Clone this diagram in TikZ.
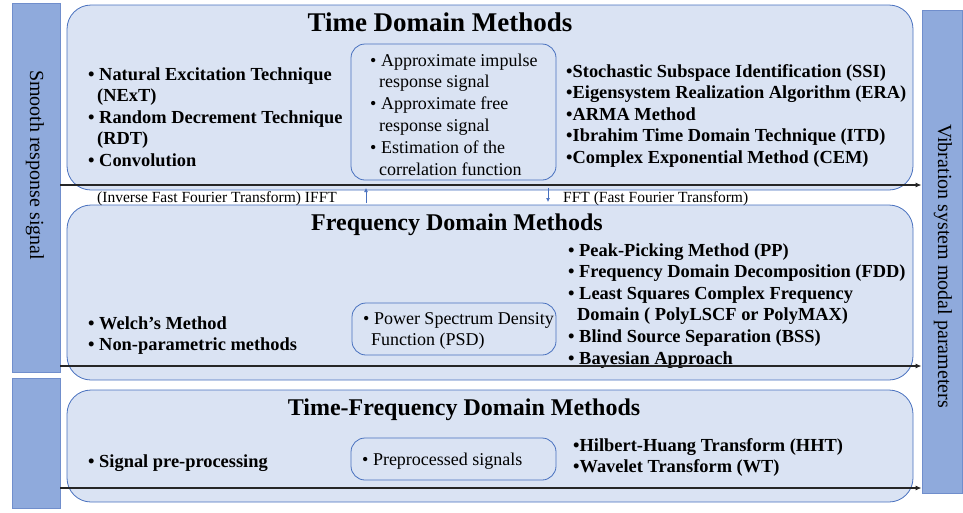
\documentclass[tikz,border=0pt]{standalone}
\usepackage{fontspec}
\setmainfont{Liberation Serif}
\usetikzlibrary{positioning, arrows.meta}
\definecolor{boxfill}{RGB}{218,227,243}
\definecolor{boxline}{RGB}{72,112,190}
\definecolor{barfill}{RGB}{143,170,220}
\definecolor{barline}{RGB}{112,142,204}
\newcommand{\bul}{\textbullet\ }
\newcommand{\hang}{\hspace*{9pt}}
\tikzset{
panel/.style = {draw = boxline, fill = boxfill, line width = 0.8pt, rounded corners = 24pt},
innerbox/.style = {draw = boxline, fill = boxfill, line width = 0.8pt, rounded corners = 14pt},
sidebar/.style = {draw = barline, fill = barfill, line width = 0.8pt, inner sep = 0pt},
bartext/.style = {font = \fontsize{20}{24}\selectfont, rotate = -90, inner sep = 0pt},
heading/.style = {font = \fontsize{24}{28}\selectfont\bfseries, anchor = base, inner sep = 0pt},
item/.style = {font = \fontsize{18.4}{21.6}\selectfont\bfseries, anchor = base west, inner sep = 0pt},
plain/.style = {font = \fontsize{18}{21.6}\selectfont, anchor = base west, inner sep = 0pt},
tlabel/.style = {font = \fontsize{15.5}{18}\selectfont, anchor = base west, inner sep = 0pt},
flow/.style = {-{Latex[length = 6pt, width = 5pt]}, line width = 1.3pt, black!85},
transform/.style = {-{Latex[length = 4pt, width = 4pt]}, line width = 0.7pt, boxline}
}

\begin{document}
\begin{tikzpicture}[x = 1pt, y = -1pt]
\useasboundingbox (0,0) rectangle (963,512);

%% Side bars
\node [sidebar, minimum width = 48pt, minimum height = 369pt] (smooth) at (36,187.5) {};
\node [sidebar, minimum width = 48pt, minimum height = 130pt] (smoothb) at (36,443) {};
\node [sidebar, minimum width = 40pt, minimum height = 483pt] (modal) at (942,251.5) {};
\node [bartext] (smoothtxt) at (35,165) {Smooth response signal};
\node [bartext] (modaltxt) at (943,266) {Vibration system modal parameters};

%% Method panels
\draw [panel] (67,5) rectangle (913,190);
\draw [panel] (67,205) rectangle (913,380);
\draw [panel] (67,390) rectangle (913,502);
\node [heading, font = \fontsize{27}{30}\selectfont\bfseries] (tdm) at (440,31) {Time Domain Methods};
\node [heading] (fdm) at (457,230) {Frequency Domain Methods};
\node [heading] (tfm) at (464,415) {Time-Frequency Domain Methods};

%% Intermediate results
\draw [innerbox] (351,44) rectangle (556,180);
\draw [innerbox] (352,303) rectangle (556,355);
\draw [innerbox] (351,438) rectangle (556,480);

%% Time domain lists
\foreach \t [count = \k] in {{\bul Natural Excitation Technique}, {\hang(NExT)},
   {\bul Random Decrement Technique}, {\hang(RDT)}, {\bul Convolution}}
   \node [item] (tl\k) at (88, 80 + 21.6*\k - 21.6) {\t};
\foreach \t [count = \k] in {{\bul Approximate impulse}, {\hang response signal},
   {\bul Approximate free}, {\hang response signal}, {\bul Estimation of the},
   {\hang correlation function}}
   \node [plain] (tm\k) at (370, 66 + 21.8*\k - 21.8) {\t};
\foreach \t [count = \k] in {Stochastic Subspace Identification (SSI),
   Eigensystem Realization Algorithm (ERA), ARMA Method,
   Ibrahim Time Domain Technique (ITD), Complex Exponential Method (CEM)}
   \node [item] (tr\k) at (566, 77 + 21.6*\k - 21.6) {\textbullet\t};

%% Frequency domain lists
\foreach \t [count = \k] in {{\bul Welch’s Method}, {\bul Non-parametric methods}}
   \node [item] (fl\k) at (88, 329 + 21.6*\k - 21.6) {\t};
\foreach \t [count = \k] in {{\bul Power Spectrum Density}, {\hspace*{8pt}Function (PSD)}}
   \node [plain] (fm\k) at (363, 324 + 21.6*\k - 21.6) {\t};
\foreach \t [count = \k] in {{\bul Peak-Picking Method (PP)},
   {\bul Frequency Domain Decomposition (FDD)}, {\bul Least Squares Complex Frequency},
   {\hang Domain ( PolyLSCF or PolyMAX)}, {\bul Blind Source Separation (BSS)},
   {\bul Bayesian Approach}}
   \node [item] (fr\k) at (568, 256 + 21.6*\k - 21.6) {\t};

%% Time-frequency domain lists
\node [item] (sl1) at (88,467) {\bul Signal pre-processing};
\node [plain] (sm1) at (362,465) {\bul Preprocessed signals};
\foreach \t [count = \k] in {Hilbert-Huang Transform (HHT), Wavelet Transform (WT)}
   \node [item] (sr\k) at (573, 451 + 21.6*\k - 21.6) {\textbullet\t};

%% Signal flow to the modal parameters
\foreach \y [count = \k] in {185, 366, 488} {
   \coordinate (in\k) at (smooth.east |- 0,\y);
   \coordinate (out\k) at (modal.west |- 0,\y);
   \draw [flow] (in\k) -- (out\k);
}

%% Transforms between the domains
\node [tlabel] (ifft) at (97,202) {(Inverse Fast Fourier Transform) IFFT};
\node [tlabel] (fft) at (563,202) {FFT (Fast Fourier Transform)};
\coordinate (ifftlow) at (366,203);
\coordinate (iffttop) at (366,188);
\coordinate (ffttop) at (548,188);
\coordinate (fftlow) at (548,202);
\draw [transform] (ifftlow) -- (iffttop);
\draw [transform] (ffttop) -- (fftlow);

\end{tikzpicture}
\end{document}
